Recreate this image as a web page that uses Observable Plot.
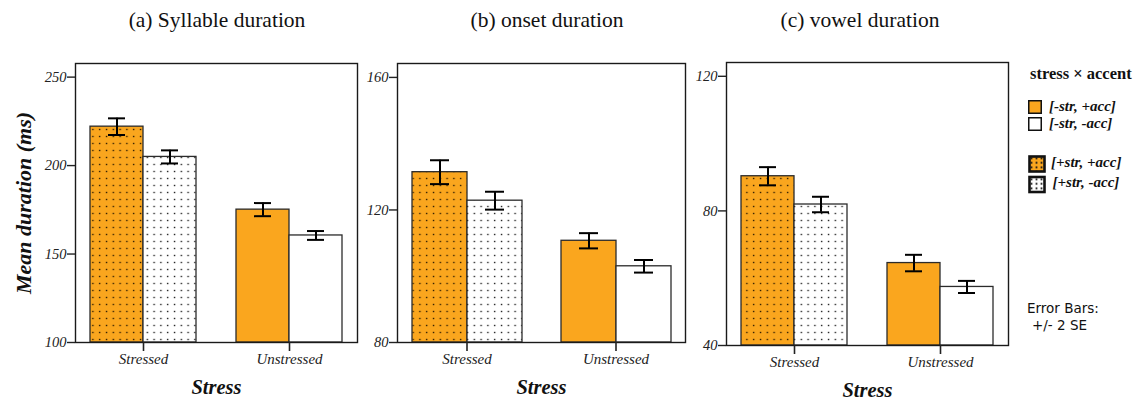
<!DOCTYPE html>
<html>
<head>
<meta charset="utf-8">
<script src="https://cdn.jsdelivr.net/npm/d3@7"></script>
<script src="https://cdn.jsdelivr.net/npm/@observablehq/plot@0.6"></script>
<style>
  html, body { margin: 0; padding: 0; background: #fff; }
  #page { position: relative; width: 1138px; height: 402px; overflow: hidden; background: #fff; }
  .panel { position: absolute; top: 0; }
  #overlay { position: absolute; left: 0; top: 0; pointer-events: none; }
</style>
</head>
<body>
<div id="page">
  <svg width="0" height="0" style="position:absolute">
    <defs>
      <pattern id="dotOrange" patternUnits="userSpaceOnUse" width="6.8" height="7">
        <rect width="6.8" height="7" fill="#FAA61E"></rect>
        <rect x="2.8" y="2.8" width="1.4" height="1.4" fill="#2a1a00"></rect>
      </pattern>
      <pattern id="dotWhite" patternUnits="userSpaceOnUse" width="6.8" height="7">
        <rect width="6.8" height="7" fill="#ffffff"></rect>
        <rect x="2.8" y="2.8" width="1.4" height="1.4" fill="#1a1a1a"></rect>
      </pattern>
      <pattern id="legDotOrange" patternUnits="userSpaceOnUse" x="1029" y="156" width="5" height="4.5">
        <rect width="5" height="4.5" fill="#FAA61E"></rect>
        <rect x="1.6" y="1.4" width="1.8" height="1.8" fill="#111"></rect>
      </pattern>
      <pattern id="legDotWhite" patternUnits="userSpaceOnUse" x="1029" y="177" width="5" height="4.5">
        <rect width="5" height="4.5" fill="#ffffff"></rect>
        <rect x="1.6" y="1.4" width="1.8" height="1.8" fill="#111"></rect>
      </pattern>
    </defs>
  </svg>
  <div id="p1" class="panel" style="left:0px"></div>
  <div id="p2" class="panel" style="left:362px"></div>
  <div id="p3" class="panel" style="left:689px"></div>
  <svg id="overlay" width="1138" height="402"></svg>
</div>
<script>
// ---- data ----
const stressLevels = ["Stressed", "Unstressed"];
const accentLevels = ["+acc", "-acc"];
// order of values: Stressed +acc, Stressed -acc, Unstressed +acc, Unstressed -acc
const syllableMean = [222.0, 204.9, 175.1, 160.5];
const syllableErr  = [4.7, 3.7, 3.7, 2.5];   // +/- 2 SE
const onsetMean    = [131.4, 122.8, 110.7, 103.0];
const onsetErr     = [3.6, 2.7, 2.3, 1.9];
const vowelMean    = [90.3, 81.9, 64.5, 57.4];
const vowelErr     = [2.7, 2.3, 2.45, 1.8];

const syllableTicks = [100, 150, 200, 250];
const onsetTicks    = [80, 120, 160];
const vowelTicks    = [40, 80, 120];

const panelTitles = ["(a) Syllable duration", "(b) onset duration", "(c) vowel duration"];
const yLabel = "Mean duration (ms)";
const xLabel = "Stress";

const legendTitle = "stress × accent";
const legendLabels = ["[-str, +acc]", "[-str, -acc]", "[+str, +acc]", "[+str, -acc]"];
const legendKeys = ["Unstressed|+acc", "Unstressed|-acc", "Stressed|+acc", "Stressed|-acc"];
const noteLines = ["Error Bars:", "+/- 2 SE"];

// ---- styles ----
const ORANGE = "#FAA61E";
const SERIF = "'Liberation Serif', 'Times New Roman', serif";
const fillRange = [ORANGE, "#ffffff", "url(#dotOrange)", "url(#dotWhite)"];

function rowsFrom(means, errs) {
  const rows = [];
  let i = 0;
  for (const s of stressLevels) for (const a of accentLevels) {
    rows.push({stress: s, accent: a, cond: s + "|" + a, mean: means[i], err: errs[i]});
    i++;
  }
  return rows;
}

function panel(el, {means, errs, ticks, yMax, width, marginLeft, marginRight, marginTop, marginBottom, showYLabel}) {
  const rows = rowsFrom(means, errs);
  const yMin = ticks[0];
  const marks = [
    Plot.barY(rows, {fx: "stress", x: "accent", y1: yMin, y2: "mean", fill: "cond",
      stroke: "#2b2b2b", strokeWidth: 1.3}),
    Plot.ruleX(rows, {fx: "stress", x: "accent", y1: d => d.mean - d.err, y2: d => d.mean + d.err,
      stroke: "#000", strokeWidth: 2}),
    Plot.tickY(rows, {fx: "stress", x: "accent", y: d => d.mean - d.err, insetLeft: 18, insetRight: 18,
      stroke: "#000", strokeWidth: 2}),
    Plot.tickY(rows, {fx: "stress", x: "accent", y: d => d.mean + d.err, insetLeft: 18, insetRight: 18,
      stroke: "#000", strokeWidth: 2}),
    Plot.frame({facet: "super", stroke: "#1a1a1a", strokeWidth: 1.4}),
    Plot.axisY({ticks, tickSize: 8, tickPadding: 1, tickFormat: d => String(d), label: null,
      fontFamily: SERIF, fontStyle: "italic", fontSize: 14.5, color: "#222", strokeWidth: 1.4}),
    Plot.axisFx({anchor: "bottom", tickSize: 9, tickPadding: 2, label: null,
      fontFamily: SERIF, fontStyle: "italic", fontSize: 15, color: "#222", strokeWidth: 1.6}),
    Plot.text([xLabel], {facet: "super", frameAnchor: "bottom", dy: 51, text: d => d,
      fontFamily: SERIF, fontStyle: "italic", fontWeight: "bold", fontSize: 20.5, fill: "#111"})
  ];
  if (showYLabel) {
    marks.push(Plot.text([yLabel], {facet: "super", frameAnchor: "left", dx: -52, rotate: -90,
      textAnchor: "middle", text: d => d,
      fontFamily: SERIF, fontStyle: "italic", fontWeight: "bold", fontSize: 22, fill: "#111"}));
  }
  const chart = Plot.plot({
    width, height: 402, marginLeft, marginRight, marginTop, marginBottom,
    style: {background: "transparent", overflow: "visible"},
    fx: {domain: stressLevels, paddingInner: 0.068, paddingOuter: 0, label: null},
    x: {domain: accentLevels, paddingInner: 0, paddingOuter: 0.26, axis: null},
    y: {domain: [yMin, yMax], axis: null},
    color: {type: "ordinal", domain: legendKeys, range: fillRange},
    marks
  });
  el.appendChild(chart);
}

panel(document.getElementById("p1"), {means: syllableMean, errs: syllableErr, ticks: syllableTicks, yMax: 257.7,
  width: 362, marginLeft: 74, marginRight: 4, marginTop: 63, marginBottom: 60, showYLabel: true});
panel(document.getElementById("p2"), {means: onsetMean, errs: onsetErr, ticks: onsetTicks, yMax: 164.2,
  width: 327, marginLeft: 35, marginRight: 4, marginTop: 63, marginBottom: 60, showYLabel: false});
panel(document.getElementById("p3"), {means: vowelMean, errs: vowelErr, ticks: vowelTicks, yMax: 124.1,
  width: 324, marginLeft: 37, marginRight: 4, marginTop: 62, marginBottom: 57, showYLabel: false});

// ---- titles, legend and note ----
const ov = d3.select("#overlay");
const titleX = [217, 547, 860];
panelTitles.forEach((t, i) => {
  ov.append("text").attr("x", titleX[i]).attr("y", 27).attr("text-anchor", "middle")
    .attr("font-family", SERIF).attr("font-size", 21.5).attr("fill", "#111").text(t);
});
ov.append("text").attr("x", 1030).attr("y", 79).attr("font-family", SERIF).attr("font-weight", "bold")
  .attr("font-size", 16.5).attr("fill", "#111").text(legendTitle);

const swatches = [
  {x: 1028.75, y: 100.75, s: 12.5, fill: ORANGE, sw: 1.5, lx: 1049, ly: 110.5},
  {x: 1028.75, y: 117.75, s: 12.5, fill: "#fff", sw: 1.5, lx: 1049, ly: 128},
  {x: 1029.5, y: 156.5, s: 15, fill: "url(#legDotOrange)", sw: 2.6, lx: 1051, ly: 166.5},
  {x: 1029.5, y: 177, s: 15, fill: "url(#legDotWhite)", sw: 2.6, lx: 1052.5, ly: 187}
];
swatches.forEach((w, i) => {
  ov.append("rect").attr("x", w.x).attr("y", w.y).attr("width", w.s).attr("height", w.s)
    .attr("fill", w.fill).attr("stroke", "#111").attr("stroke-width", w.sw);
  ov.append("text").attr("x", w.lx).attr("y", w.ly).attr("font-family", SERIF).attr("font-weight", "bold")
    .attr("font-style", "italic").attr("font-size", 15).attr("fill", "#111").text(legendLabels[i]);
});
ov.append("text").attr("x", 1027).attr("y", 313).attr("font-family", "'DejaVu Sans', sans-serif")
  .attr("font-size", 13.5).attr("fill", "#111").text(noteLines[0]);
ov.append("text").attr("x", 1032).attr("y", 330).attr("font-family", "'DejaVu Sans', sans-serif")
  .attr("font-size", 13.5).attr("fill", "#111").text(noteLines[1]);
</script>
</body>
</html>
